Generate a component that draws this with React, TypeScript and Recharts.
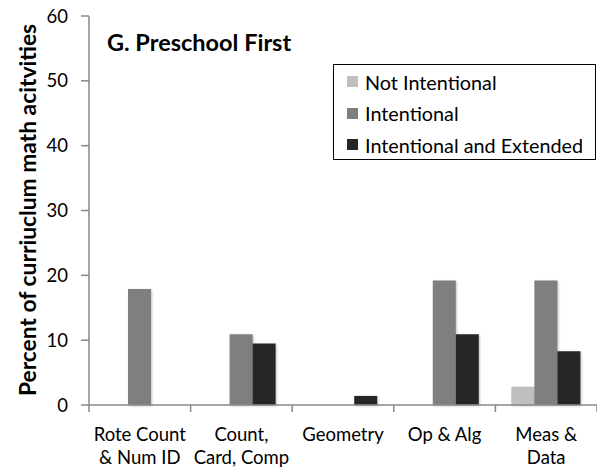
import { BarChart, Bar, XAxis, YAxis } from "recharts"

// categories (line breaks as in the original axis labels)
const categories = ["Rote Count\n& Num ID", "Count,\nCard, Comp", "Geometry", "Op & Alg", "Meas &\nData"]

// percent of curriculum math activities
const notIntentional = [0, 0, 0, 0, 2.8]
const intentional = [17.9, 10.9, 0, 19.2, 19.2]
const extended = [0, 9.5, 1.4, 10.9, 8.3]

const yTicks = [0, 10, 20, 30, 40, 50, 60]

const SERIES = [
  { key: "notIntentional", label: "Not Intentional", color: "#BFBFBF" },
  { key: "intentional", label: "Intentional", color: "#7F7F7F" },
  { key: "extended", label: "Intentional and Extended", color: "#262626" },
]

const FONT = "Lato, 'Open Sans', sans-serif"
const AXIS = "#888888"

const data = categories.map((name, i) => ({
  name,
  notIntentional: notIntentional[i],
  intentional: intentional[i],
  extended: extended[i],
}))

// label + Excel-style tick marks on the category boundaries
function CategoryTick({ x, y, payload, index }: any) {
  const lines = String(payload.value).split("\n")
  const half = payload.offset || 50.8
  return (
    <g>
      {index === 0 && <line x1={x - half} x2={x - half} y1={y} y2={y + 7} stroke={AXIS} strokeWidth={1.5} />}
      <line x1={x + half} x2={x + half} y1={y} y2={y + 7} stroke={AXIS} strokeWidth={1.5} />
      <text x={x} y={y} textAnchor="middle" fontFamily={FONT} fontSize={18.5} fill="#000">
        {lines.map((l, i) => (
          <tspan key={i} x={x} dy={i === 0 ? 36 : 23}>{l}</tspan>
        ))}
      </text>
    </g>
  )
}

// legend box drawn as an overlay (Recharts' Legend would reserve plot space)
function LegendBox() {
  return (
    <div style={{ position: "absolute", left: 333, top: 64, border: "1.5px solid #000", width: 263, height: 96, boxSizing: "border-box", background: "#fff", fontFamily: FONT, fontSize: 19.8, paddingTop: 1 }}>
      {SERIES.map((s) => (
        <div key={s.key} style={{ display: "flex", alignItems: "center", height: 31.5, paddingLeft: 13 }}>
          <span style={{ width: 11, height: 11, background: s.color, marginRight: 7, flexShrink: 0 }} />
          <span style={{ whiteSpace: "nowrap" }}>{s.label}</span>
        </div>
      ))}
    </div>
  )
}

function YLabel() {
  return (
    <text transform="translate(36, 210) rotate(-90)" textAnchor="middle" fontFamily={FONT} fontWeight="bold" fontSize={22.8} fill="#000">
      Percent of curriuclum math acitvities
    </text>
  )
}

export default function App() {
  return (
    <div style={{ position: "absolute", left: 0, top: 0, width: 597, height: 474, background: "#fff" }}>
      <style>{`.recharts-bar-rectangle path { filter: drop-shadow(1px 1px 1px rgba(0,0,0,0.25)); }`}</style>
      <BarChart
        width={597}
        height={474}
        data={data}
        margin={{ top: 16, right: 0, bottom: 0, left: 0 }}
        barCategoryGap={16}
        barGap={0}
      >
        <XAxis
          dataKey="name"
          stroke={AXIS}
          strokeWidth={1.5}
          tickLine={false}
          tickSize={0}
          tickMargin={0}
          height={69}
          interval={0}
          tick={<CategoryTick />}
        />
        <YAxis
          domain={[0, 60]}
          ticks={yTicks}
          width={89}
          tickSize={8}
          tickMargin={13}
          stroke={AXIS}
          strokeWidth={1.5}
          tick={{ fill: "#000", fontFamily: FONT, fontSize: 18.5 }}
          label={<YLabel />}
        />
        {SERIES.map((s) => (
          <Bar key={s.key} dataKey={s.key} fill={s.color} isAnimationActive={false} />
        ))}
        <text x={107} y={51} fontFamily={FONT} fontWeight="bold" fontSize={23.5} fill="#000">G. Preschool First</text>
      </BarChart>
      <LegendBox />
    </div>
  )
}
